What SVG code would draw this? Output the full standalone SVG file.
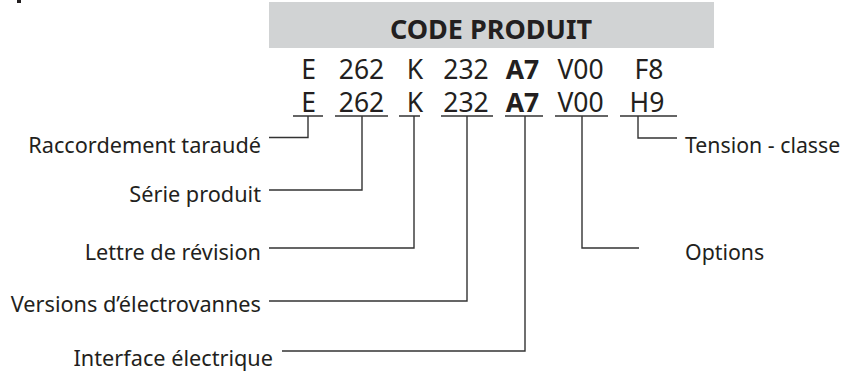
<svg xmlns="http://www.w3.org/2000/svg" width="843" height="374" viewBox="0 0 843 374">
<style>
text{font-family:"Noto Sans","Open Sans","DejaVu Sans",sans-serif;fill:#231f20}
.code{font-size:26.5px;text-anchor:middle}
.b{font-weight:bold}
.lbl{font-size:21.7px}
.rt{font-size:21.3px}
.r{text-anchor:end}
.ln{fill:none;stroke:#333;stroke-width:1.4}
</style>
<rect x="17" y="0" width="4" height="3" fill="#231f20"/>
<g id="header">
<rect x="269" y="2" width="445" height="46" fill="#d1d3d4"/>
<text x="491" y="38.5" font-size="27" class="b" text-anchor="middle">CODE PRODUIT</text>
</g>
<g id="row1">
<text class="code" x="308.5" y="79">E</text>
<text class="code" x="361.5" y="79">262</text>
<text class="code" x="415" y="79">K</text>
<text class="code" x="466" y="79">232</text>
<text class="code b" x="522.5" y="79">A7</text>
<text class="code" x="580.5" y="79">V00</text>
<text class="code" x="649" y="79">F8</text>
</g>
<g id="row2">
<text class="code" x="308.5" y="112">E</text>
<text class="code" x="361.5" y="112">262</text>
<text class="code" x="415" y="112">K</text>
<text class="code" x="466" y="112">232</text>
<text class="code b" x="522.5" y="112">A7</text>
<text class="code" x="580.5" y="112">V00</text>
<text class="code" x="647" y="112">H9</text>
</g>
<g id="labels">
<text class="lbl r" x="261" y="153">Raccordement taraudé</text>
<text class="lbl r" x="261" y="202">Série produit</text>
<text class="lbl r" x="261" y="260">Lettre de révision</text>
<text class="lbl r" x="261" y="312">Versions d’électrovannes</text>
<text class="lbl r" x="273" y="366">Interface électrique</text>
<text class="rt" x="685" y="153">Tension - classe</text>
<text class="rt" x="685" y="260">Options</text>
</g>
<g id="connectors">
<path class="ln" d="M293 116H323M335 116H388M399 116H420M441 116H493M505 116H543M555 116H608M620 116H677"/>
<path class="ln" d="M308 116V137.5H269"/>
<path class="ln" d="M362 116V190H269"/>
<path class="ln" d="M414 116V248H269"/>
<path class="ln" d="M467 116V301H269"/>
<path class="ln" d="M525 116V351H282"/>
<path class="ln" d="M582 116V248H639"/>
<path class="ln" d="M638 116V138H677"/>
</g>
</svg>
